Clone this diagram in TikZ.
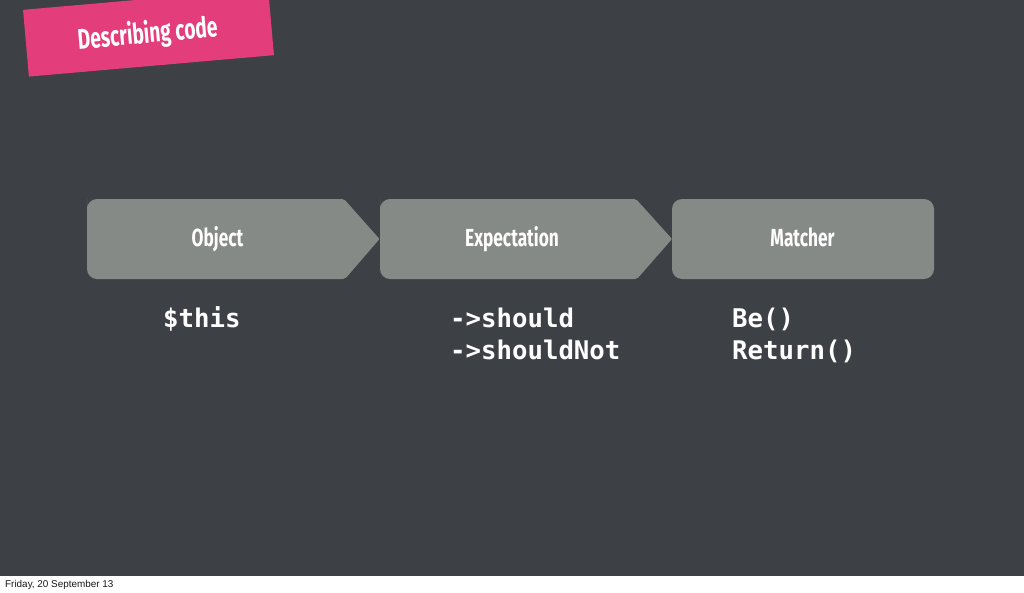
\documentclass[tikz,border=0pt]{standalone}
\usepackage{fontspec}
\setmainfont{Liberation Sans}
\newfontfamily\headfont[FakeStretch=0.7]{Fira Sans}
\newfontfamily\bannerfont[FakeStretch=0.675]{Fira Sans}
\newfontfamily\codefont{DejaVu Sans Mono}
\definecolor{slidebg}{HTML}{3D4045}
\definecolor{boxgray}{HTML}{858A86}
\definecolor{bannerpink}{HTML}{E43D7B}
\tikzset{
  stage/.style={fill=boxgray},
  stagelabel/.style={anchor=base, text=white, inner sep=0pt, font=\headfont\bfseries\fontsize{24.7}{26}\selectfont},
  codeline/.style={anchor=base west, text=white, inner sep=0pt, font=\codefont\bfseries\fontsize{25.7}{30}\selectfont},
}
\begin{document}
\begin{tikzpicture}[x=1pt,y=-1pt]
\useasboundingbox (0,0) rectangle (1024,592);
\fill[white] (0,0) rectangle (1024,592);
\fill[slidebg] (0,0) rectangle (1024,576);
% banner
\begin{scope}
\clip (0,0) rectangle (1024,576);
\node[fill=bannerpink, rotate=5, minimum width=246pt, minimum height=67pt, inner sep=0pt] (banner) at (148.5,32.5) {};
\end{scope}
\node[anchor=base, rotate=5, text=white, inner sep=0pt, font=\bannerfont\bfseries\fontsize{28.5}{30}\selectfont] (bannertext) at (148.5,43) {Describing code};
% stages
\fill[stage] (87,209) [rounded corners=10pt] -- (87,199) [rounded corners=2pt] -- (344,199) [rounded corners=1pt] -- (379.5,239) [rounded corners=2pt] -- (345,279) [rounded corners=10pt] -- (87,279) -- cycle;
\fill[stage] (380,209) [rounded corners=10pt] -- (380,199) [rounded corners=2pt] -- (636,199) [rounded corners=1pt] -- (672,239) [rounded corners=2pt] -- (637,279) [rounded corners=10pt] -- (380,279) -- cycle;
\fill[stage, rounded corners=10pt] (672,199) rectangle (934,279);
\node[stagelabel] (object) at (217.5,246) {Object};
\node[stagelabel] (expectation) at (512,246) {Expectation};
\node[stagelabel] (matcher) at (802.5,246) {Matcher};
% code
\node[codeline] (this) at (163,327) {\$this};
\node[codeline] (should) at (450,327) {->should};
\node[codeline] (shouldnot) at (450,359.5) {->shouldNot};
\node[codeline] (be) at (732,327) {Be()};
\node[codeline] (return) at (732,359.5) {Return()};
% footer
\node[anchor=base west, inner sep=0pt, text=black!90, font=\fontsize{9.9}{12}\selectfont] (footer) at (5,587) {Friday, 20 September 13};
\end{tikzpicture}
\end{document}
